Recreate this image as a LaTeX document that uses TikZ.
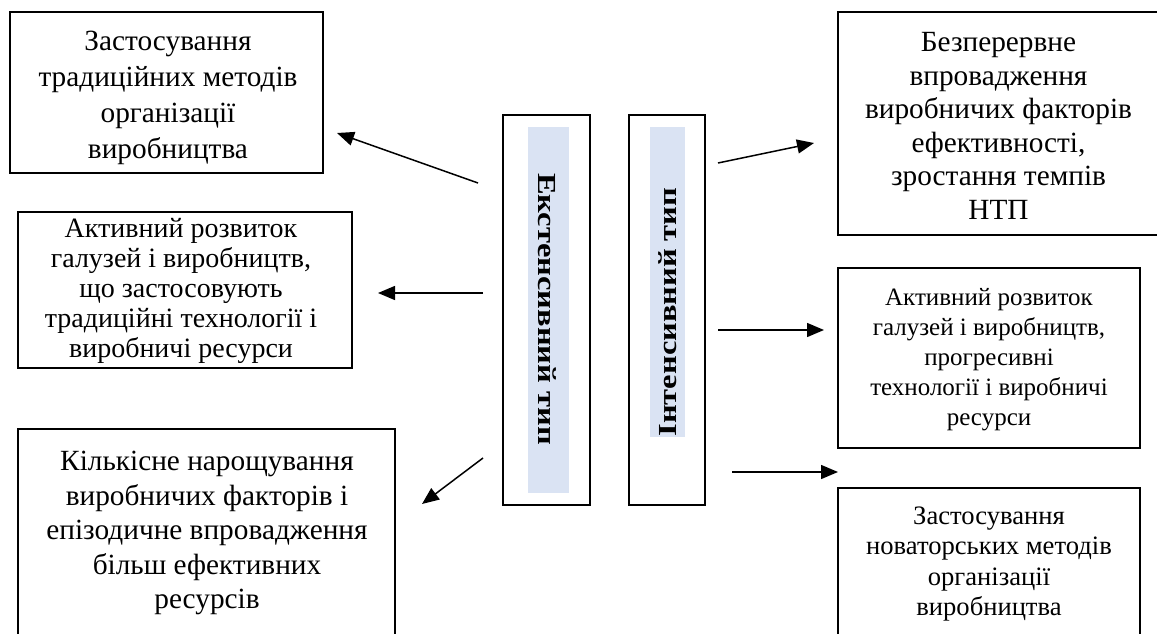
\documentclass[tikz,border=0pt]{standalone}
\usepackage{fontspec}
\setmainfont{Liberation Serif}
\usetikzlibrary{arrows.meta}
\definecolor{fillblue}{HTML}{DAE3F3}
\tikzset{
  box/.style={draw=black, line width=1.6pt, fill=white, inner sep=0pt},
  band/.style={fill=fillblue, draw=none, inner sep=0pt},
  txt/.style={align=center, inner sep=0pt},
  vtxt/.style={inner sep=0pt, font=\fontsize{26}{30}\selectfont\bfseries},
  arr/.style={line width=1.5pt, -{Triangle[length=17pt,width=14pt]}}
}
\begin{document}
\begin{tikzpicture}[x=1pt,y=-1pt]
\useasboundingbox (0,0) rectangle (1157,634);
\clip (0,0) rectangle (1157,634);
% left boxes
\node[box, minimum width=313pt, minimum height=161pt] (L1) at (166.5,92.5) {};
\node[txt, font=\fontsize{29.3}{36}\selectfont] (L1t) at (168,98) {Застосування\\традиційних методів\\організації\\виробництва};
\node[box, minimum width=334pt, minimum height=156pt] (L2) at (185,290) {};
\node[txt, font=\fontsize{28}{30}\selectfont] (L2t) at (181,291) {Активний розвиток\\галузей і виробництв,\\що застосовують\\традиційні технології і\\виробничі ресурси};
\node[box, minimum width=377pt, minimum height=221pt] (L3) at (206.5,539.5) {};
\node[txt, font=\fontsize{29.3}{34.5}\selectfont] (L3t) at (207,533) {Кількісне нарощування\\виробничих факторів і\\епізодичне впровадження\\більш ефективних\\ресурсів};
% right boxes
\node[box, minimum width=332pt, minimum height=223pt] (R1) at (1004,123.5) {};
\node[txt, font=\fontsize{29.3}{33.5}\selectfont] (R1t) at (998.5,126) {Безперервне\\впровадження\\виробничих факторів\\ефективності,\\зростання темпів\\НТП};
\node[box, minimum width=302pt, minimum height=180pt] (R2) at (989,358) {};
\node[txt, font=\fontsize{25}{30}\selectfont] (R2t) at (989,360) {Активний розвиток\\галузей і виробництв,\\прогресивні\\технології і виробничі\\ресурси};
\node[box, minimum width=302pt, minimum height=162pt] (R3) at (989,569) {};
\node[txt, font=\fontsize{26.6}{30.5}\selectfont] (R3t) at (989,564) {Застосування\\новаторських методів\\організації\\виробництва};
% central boxes
\node[box, minimum width=87pt, minimum height=390pt] (C1) at (546.5,310) {};
\node[band, minimum width=41pt, minimum height=366pt] (C1b) at (548.5,310) {};
\node[vtxt, rotate=-90] (C1t) at (547,309) {\scalebox{1.25}[1]{Екстенсивний тип}};
\node[box, minimum width=76pt, minimum height=390pt] (C2) at (667,310) {};
\node[band, minimum width=35pt, minimum height=310pt] (C2b) at (667.5,282) {};
\node[vtxt, rotate=90] (C2t) at (668,312) {\scalebox{1.25}[1]{Інтенсивний тип}};
% arrow coordinates
\coordinate (a1s) at (478,183);
\coordinate (a1e) at (337,133);
\coordinate (a2s) at (483,293);
\coordinate (a2e) at (378,293);
\coordinate (a3s) at (483,458);
\coordinate (a3e) at (422,504);
\coordinate (b1s) at (718,163);
\coordinate (b1e) at (814,143);
\coordinate (b2s) at (718,330);
\coordinate (b2e) at (824,330);
\coordinate (b3s) at (732,472);
\coordinate (b3e) at (838,472);
\draw[arr] (a1s) -- (a1e);
\draw[arr] (a2s) -- (a2e);
\draw[arr] (a3s) -- (a3e);
\draw[arr] (b1s) -- (b1e);
\draw[arr] (b2s) -- (b2e);
\draw[arr] (b3s) -- (b3e);
\end{tikzpicture}
\end{document}
